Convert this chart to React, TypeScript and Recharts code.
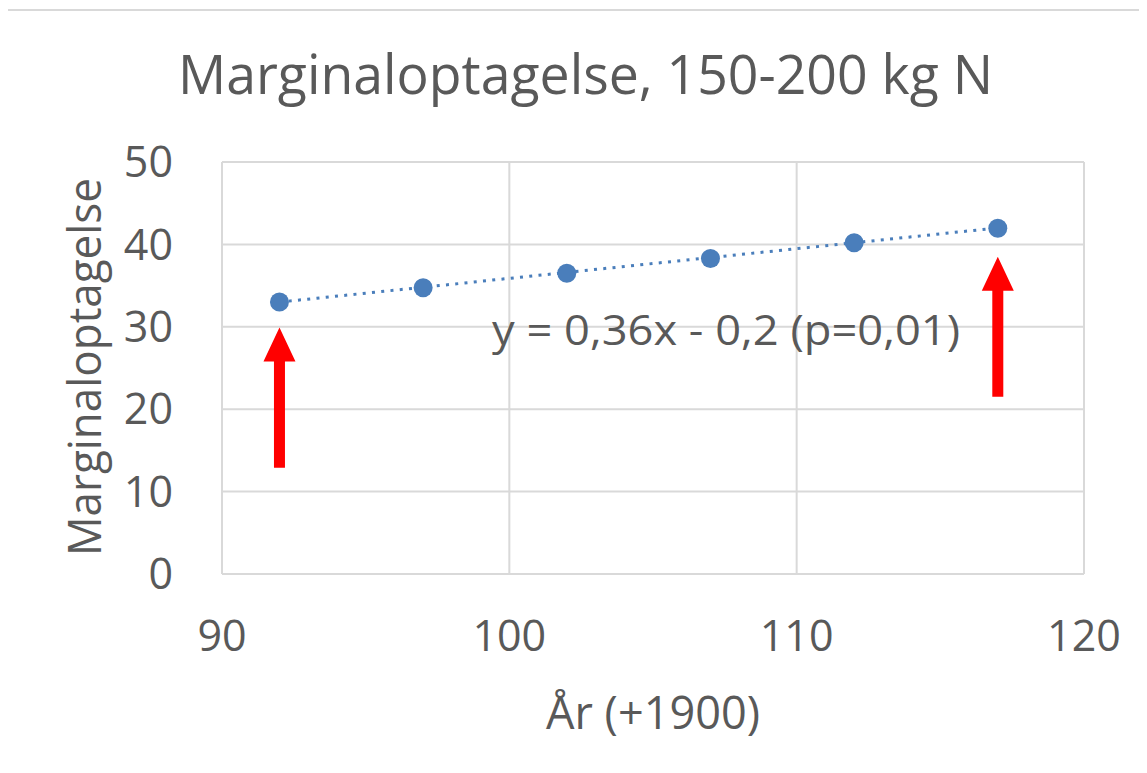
import React from 'react';
import { ComposedChart, Scatter, XAxis, YAxis, CartesianGrid, ReferenceLine } from 'recharts';

const years = [92, 97, 102, 107, 112, 117];
const uptake = [33.0, 34.75, 36.5, 38.3, 40.2, 41.95];
const trendX = [92, 117];
const trendY = [33.0, 42.0];
const arrowX = [92, 117];
const arrowFrom = [12.9, 21.5];
const arrowTo = [29.9, 38.5];
const xTicks = [90, 100, 110, 120];
const yTicks = [0, 10, 20, 30, 40, 50];

const points = years.map((x, i) => ({ x, y: uptake[i] }));

const FONT = '"Open Sans", "Noto Sans", sans-serif';
const TXT = '#595959';
const GRID = '#d9d9d9';
const BLUE = '#4a7ebb';

const Arrow = (props: any) => {
  const { x1, y1, x2, y2 } = props;
  const cx = (x1 + x2) / 2;
  const tip = Math.min(y1, y2);
  const base = Math.max(y1, y2);
  const hw = 16;
  const hh = 34;
  const sw = 5.5;
  const d = `M ${cx} ${tip} L ${cx + hw} ${tip + hh} L ${cx + sw} ${tip + hh} L ${cx + sw} ${base} L ${cx - sw} ${base} L ${cx - sw} ${tip + hh} L ${cx - hw} ${tip + hh} Z`;
  return <path d={d} fill="#ff0000" stroke="none" />;
};

export default function App() {
  return (
    <div style={{ margin: -8, width: 1147, height: 773, position: 'relative', overflow: 'hidden', background: '#fff' }}>
      <div style={{ position: 'absolute', left: 4, top: 9, width: 1300, height: 900, borderTop: `2px solid ${GRID}`, borderLeft: `2px solid ${GRID}` }} />
      <div style={{ position: 'absolute', left: 0, top: 0 }}>
        <ComposedChart width={1147} height={773} margin={{ top: 162, right: 63, bottom: 99, left: 122 }}>
          <CartesianGrid stroke={GRID} strokeWidth={2} />
          <XAxis
            type="number"
            dataKey="x"
            domain={[90, 120]}
            ticks={xTicks}
            height={100}
            axisLine={{ stroke: GRID, strokeWidth: 2 }}
            tickLine={false}
            tickSize={0}
            tickMargin={46}
            tick={{ fill: TXT, fontSize: 43, fontFamily: FONT }}
            allowDataOverflow
          />
          <YAxis
            type="number"
            dataKey="y"
            domain={[0, 50]}
            ticks={yTicks}
            width={100}
            axisLine={false}
            tickLine={false}
            tickSize={0}
            tickMargin={49}
            tick={{ fill: TXT, fontSize: 43, fontFamily: FONT }}
            allowDataOverflow
          />
          <ReferenceLine
            segment={[{ x: trendX[0], y: trendY[0] }, { x: trendX[1], y: trendY[1] }]}
            stroke={BLUE}
            strokeWidth={3}
            strokeDasharray="3 6.3"
          />
          <Scatter data={points} fill={BLUE} isAnimationActive={false} shape={(p: any) => <circle cx={p.cx} cy={p.cy} r={9.5} fill={BLUE} />} />
          {arrowX.map((ax, i) => (
            <ReferenceLine
              key={i}
              segment={[{ x: ax, y: arrowFrom[i] }, { x: ax, y: arrowTo[i] }]}
              stroke="#ff0000"
              shape={Arrow}
            />
          ))}
        </ComposedChart>
      </div>
      <svg width={1147} height={773} style={{ position: 'absolute', left: 0, top: 0, pointerEvents: 'none' }}>
        <text x={585.5} y={94} textAnchor="middle" fontFamily={FONT} fontSize={54} fill={TXT} textLength={815} lengthAdjust="spacingAndGlyphs">
          Marginaloptagelse, 150-200 kg N
        </text>
        <text x={653} y={729} textAnchor="middle" fontFamily={FONT} fontSize={46} fill={TXT} textLength={214} lengthAdjust="spacingAndGlyphs">
          År (+1900)
        </text>
        <text transform="translate(101,367) rotate(-90)" x={0} y={0} textAnchor="middle" fontFamily={FONT} fontSize={45} fill={TXT} textLength={378} lengthAdjust="spacingAndGlyphs">
          Marginaloptagelse
        </text>
        <text x={726} y={345} textAnchor="middle" fontFamily={FONT} fontSize={42} fill={TXT} textLength={468} lengthAdjust="spacingAndGlyphs">
          y = 0,36x - 0,2 (p=0,01)
        </text>
      </svg>
    </div>
  );
}
